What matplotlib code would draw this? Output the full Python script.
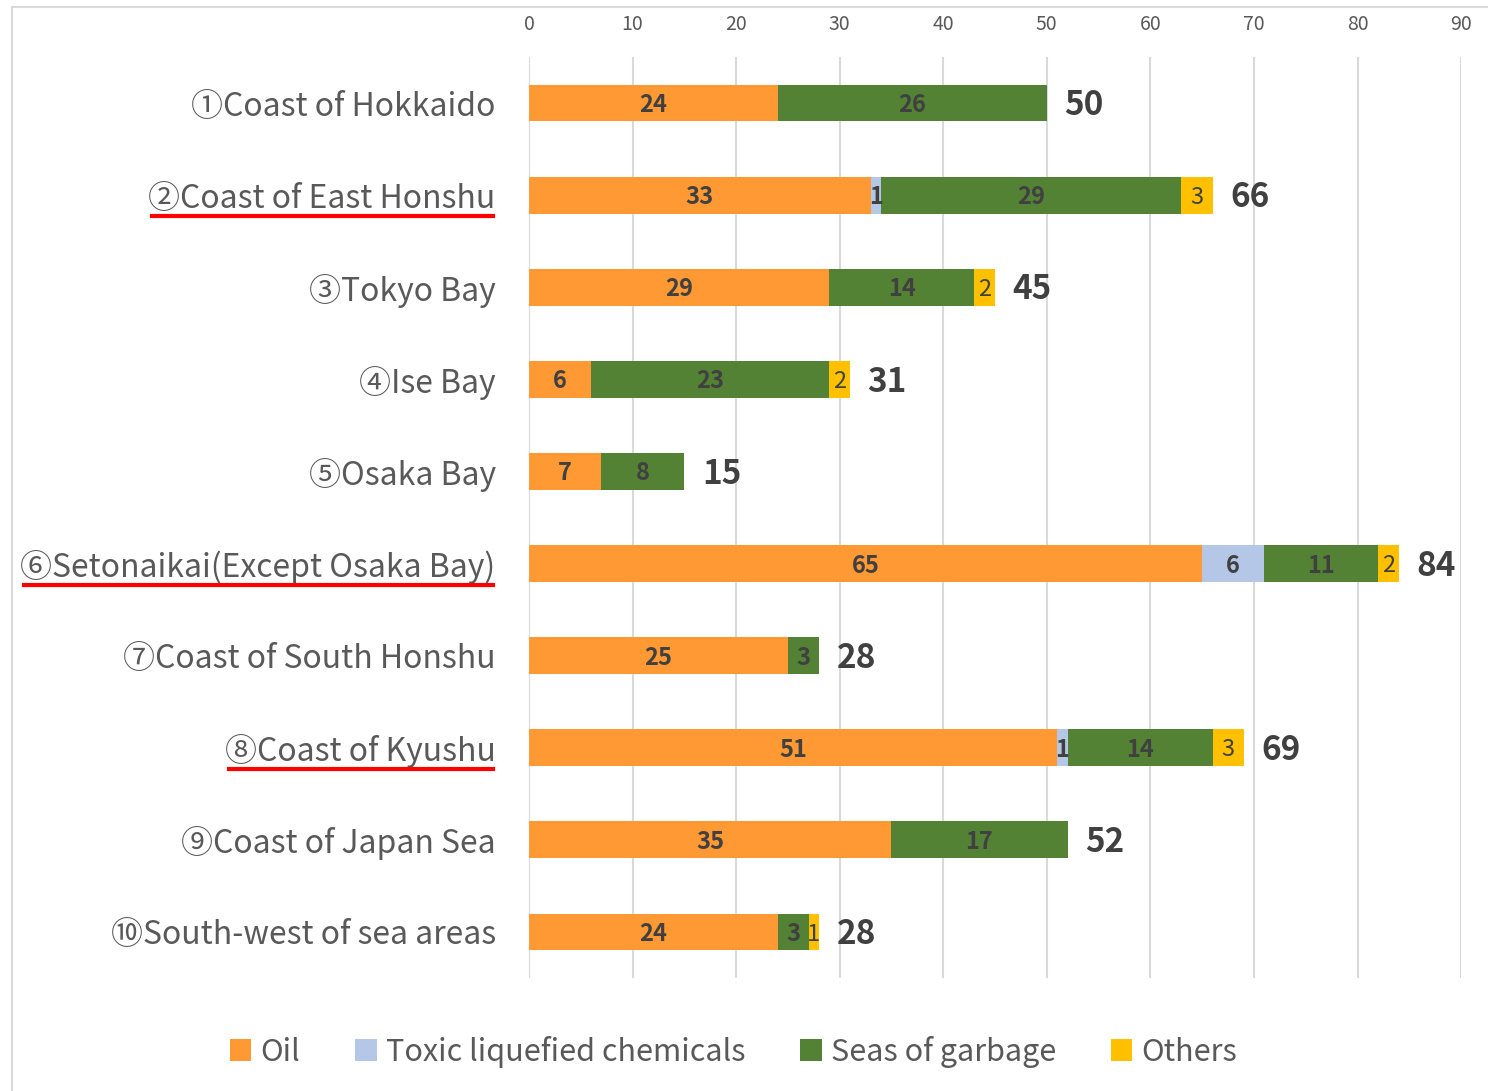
import numpy as np
import matplotlib
matplotlib.use('Agg')
import matplotlib.pyplot as plt
from matplotlib.patches import Rectangle
from matplotlib.lines import Line2D

plt.rcParams['font.family'] = ['Noto Sans CJK JP', 'DejaVu Sans']

# data
areas = ["①Coast of Hokkaido", "②Coast of East Honshu", "③Tokyo Bay", "④Ise Bay",
         "⑤Osaka Bay", "⑥Setonaikai(Except Osaka Bay)", "⑦Coast of South Honshu",
         "⑧Coast of Kyushu", "⑨Coast of Japan Sea", "⑩South-west of sea areas"]
oil = [24, 33, 29, 6, 7, 65, 25, 51, 35, 24]
toxic = [0, 1, 0, 0, 0, 6, 0, 1, 0, 0]
garbage = [26, 29, 14, 23, 8, 11, 3, 14, 17, 3]
others = [0, 3, 2, 2, 0, 2, 0, 3, 0, 1]
underlined = [1, 5, 7]

series = [("Oil", oil, "#FF9933"),
          ("Toxic liquefied chemicals", toxic, "#B4C7E7"),
          ("Seas of garbage", garbage, "#548235"),
          ("Others", others, "#FFC000")]

fig = plt.figure(figsize=(14.88, 10.91), dpi=100)
ax = fig.add_axes([0.3555, 0.1036, 0.6264, 0.8442])

y = np.arange(len(areas))
left = np.zeros(len(areas))
txt = "#404040"
for name, vals, col in series:
    vals = np.array(vals, dtype=float)
    bars = ax.barh(y, vals, left=left, height=0.4, color=col, label=name, zorder=2)
    labels = [str(int(v)) if v > 0 else "" for v in vals]
    weight = "normal" if name == "Others" else "bold"
    for t in ax.bar_label(bars, labels=labels, label_type="center", fontsize=17,
                          fontweight=weight, color=txt):
        t.xyann = (0, -1.5)
    left += vals

for i, tot in enumerate(left):
    ax.text(tot + 1.7, i + 0.03, str(int(tot)), va="center", ha="left",
            fontsize=24, fontweight="bold", color=txt)

ax.set_xlim(0, 90)
ax.set_ylim(len(areas) - 0.5, -0.5)
ax.set_xticks(np.arange(0, 91, 10))
ax.xaxis.tick_top()
ax.tick_params(axis="x", length=0, labelsize=14, colors="#595959", pad=16)
ax.tick_params(axis="y", length=0, labelsize=23, colors="#595959", pad=24)
ax.set_yticks(y)
ax.set_yticklabels(areas)
ax.grid(axis="x", color="#D9D9D9", linewidth=1.5, zorder=0)
for s in ax.spines.values():
    s.set_visible(False)

leg = fig.legend(loc="center", bbox_to_anchor=(0.493, 0.036), ncol=4, frameon=False,
                 fontsize=22, handlelength=0.7, handleheight=0.7, handletextpad=0.3,
                 columnspacing=1.8)
for t in leg.get_texts():
    t.set_color("#595959")

# frame around the chart
fig.patches.append(Rectangle((12 / 1488, -0.01), 1.2, 0.9936 + 0.01, transform=fig.transFigure,
                             fill=False, edgecolor="#D9D9D9", linewidth=1.5))

# red underlines under some labels
fig.canvas.draw()
r = fig.canvas.get_renderer()
W, H = fig.bbox.width, fig.bbox.height
for i in underlined:
    bb = ax.get_yticklabels()[i].get_window_extent(r)
    yy = bb.y0 - 1
    fig.add_artist(Line2D([(bb.x0 + 4) / W, (bb.x1 - 3) / W], [yy / H, yy / H],
                          color="#FF0000", linewidth=3, transform=fig.transFigure))

fig.savefig("out.png", dpi=100)
